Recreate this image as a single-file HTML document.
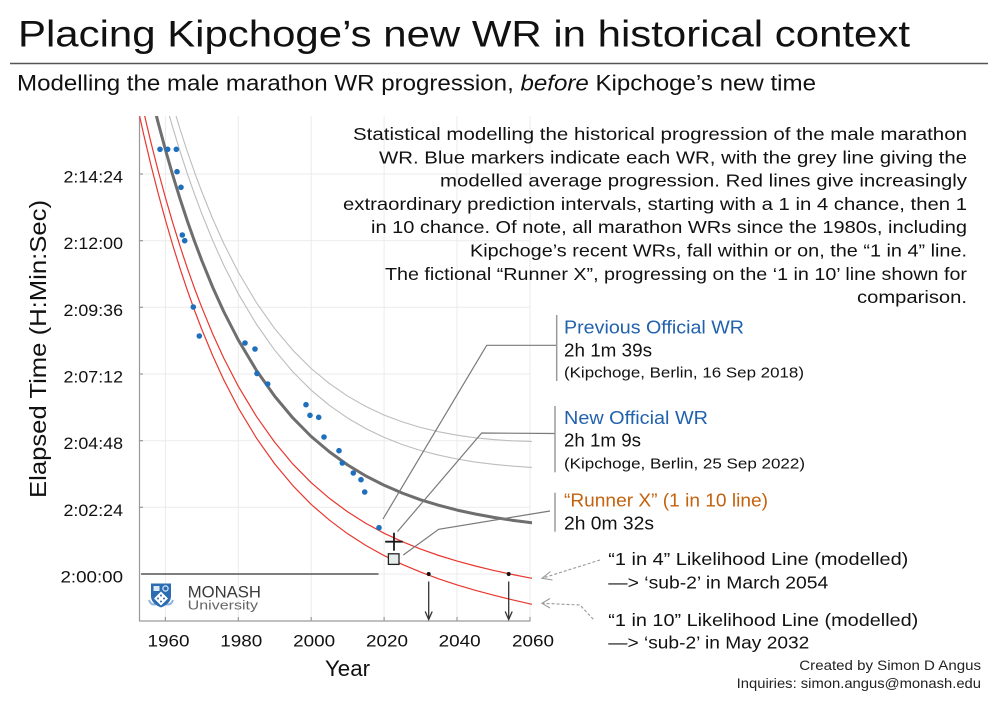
<!DOCTYPE html>
<html>
<head>
<meta charset="utf-8">
<style>
  html,body{margin:0;padding:0;background:#fff;}
  svg{display:block;}
  text{font-family:"Liberation Sans",Arial,sans-serif;}
</style>
</head>
<body>
<svg width="1000" height="702" viewBox="0 0 1000 702" xmlns="http://www.w3.org/2000/svg">
  <rect width="1000" height="702" fill="#fff"/>
  <defs>
    <clipPath id="plot"><rect x="139.5" y="116" width="392.5" height="506"/></clipPath>
  </defs>

  <!-- Title -->
  <text x="18" y="46.7" font-size="37" fill="#111" textLength="892" lengthAdjust="spacingAndGlyphs">Placing Kipchoge’s new WR in historical context</text>
  <line x1="10" y1="63.5" x2="988" y2="63.5" stroke="#555" stroke-width="1.5"/>
  <text x="17" y="90.7" font-size="22" fill="#111" textLength="799" lengthAdjust="spacingAndGlyphs">Modelling the male marathon WR progression, <tspan font-style="italic">before</tspan> Kipchoge’s new time</text>

  <!-- grid -->
  <g stroke="#ebebeb" stroke-width="1">
    <line x1="165.4" y1="116" x2="165.4" y2="621"/>
    <line x1="238.3" y1="116" x2="238.3" y2="621"/>
    <line x1="311.2" y1="116" x2="311.2" y2="621"/>
    <line x1="384.1" y1="116" x2="384.1" y2="621"/>
    <line x1="457.0" y1="116" x2="457.0" y2="621"/>
    <line x1="530.0" y1="116" x2="530.0" y2="621"/>
    <line x1="139.5" y1="174" x2="530" y2="174"/>
    <line x1="139.5" y1="240.7" x2="530" y2="240.7"/>
    <line x1="139.5" y1="307.3" x2="530" y2="307.3"/>
    <line x1="139.5" y1="374" x2="530" y2="374"/>
    <line x1="139.5" y1="440.7" x2="530" y2="440.7"/>
    <line x1="139.5" y1="507.3" x2="530" y2="507.3"/>
    <line x1="139.5" y1="574" x2="530" y2="574"/>
  </g>

  <!-- axes -->
  <g stroke="#9a9a9a" stroke-width="1.2" fill="none">
    <line x1="139.5" y1="116" x2="139.5" y2="621.5"/>
    <line x1="139.5" y1="621" x2="530.5" y2="621"/>
    <line x1="165.4" y1="617" x2="165.4" y2="621"/>
    <line x1="238.3" y1="617" x2="238.3" y2="621"/>
    <line x1="311.2" y1="617" x2="311.2" y2="621"/>
    <line x1="384.1" y1="617" x2="384.1" y2="621"/>
    <line x1="457.0" y1="617" x2="457.0" y2="621"/>
    <line x1="530.0" y1="617" x2="530.0" y2="621"/>
    <line x1="139.5" y1="174" x2="143" y2="174"/>
    <line x1="139.5" y1="240.7" x2="143" y2="240.7"/>
    <line x1="139.5" y1="307.3" x2="143" y2="307.3"/>
    <line x1="139.5" y1="374" x2="143" y2="374"/>
    <line x1="139.5" y1="440.7" x2="143" y2="440.7"/>
    <line x1="139.5" y1="507.3" x2="143" y2="507.3"/>
  </g>

  <!-- y tick labels -->
  <g font-size="17" fill="#111">
    <text x="63.5" y="182.5" textLength="59.5" lengthAdjust="spacingAndGlyphs">2:14:24</text>
    <text x="63.5" y="249.2" textLength="59.5" lengthAdjust="spacingAndGlyphs">2:12:00</text>
    <text x="63.5" y="315.8" textLength="59.5" lengthAdjust="spacingAndGlyphs">2:09:36</text>
    <text x="63.5" y="382.5" textLength="59.5" lengthAdjust="spacingAndGlyphs">2:07:12</text>
    <text x="63.5" y="449.2" textLength="59.5" lengthAdjust="spacingAndGlyphs">2:04:48</text>
    <text x="63.5" y="515.8" textLength="59.5" lengthAdjust="spacingAndGlyphs">2:02:24</text>
    <text x="60.5" y="582.5" textLength="62.5" lengthAdjust="spacingAndGlyphs">2:00:00</text>
  </g>
  <!-- x tick labels -->
  <g font-size="16.5" fill="#111">
    <text x="147.5" y="646.7" textLength="42" lengthAdjust="spacingAndGlyphs">1960</text>
    <text x="220.3" y="646.7" textLength="42" lengthAdjust="spacingAndGlyphs">1980</text>
    <text x="293.2" y="646.7" textLength="42" lengthAdjust="spacingAndGlyphs">2000</text>
    <text x="366" y="646.7" textLength="42" lengthAdjust="spacingAndGlyphs">2020</text>
    <text x="438.7" y="646.7" textLength="42" lengthAdjust="spacingAndGlyphs">2040</text>
    <text x="512" y="646.7" textLength="42" lengthAdjust="spacingAndGlyphs">2060</text>
  </g>
  <text x="325" y="676" font-size="22.5" fill="#111" textLength="45" lengthAdjust="spacingAndGlyphs">Year</text>
  <text transform="translate(46,498) rotate(-90)" x="0" y="0" font-size="23" fill="#111" textLength="298" lengthAdjust="spacingAndGlyphs">Elapsed Time (H:Min:Sec)</text>

  <!-- 2:00:00 reference line -->
  <line x1="141" y1="574" x2="378.5" y2="574" stroke="#555" stroke-width="1.4"/>

  <!-- curves -->
  <g clip-path="url(#plot)" fill="none" stroke-linejoin="round" stroke-linecap="round">
    <polyline stroke="#bdbdbd" stroke-width="1.1" points="143.5,-9.1 150.8,22.3 158.1,51.8 165.4,79.3 172.7,105.1 180.0,129.0 187.3,151.5 194.6,172.4 201.9,192.0 212.8,219.0 223.7,243.4 238.3,272.1 256.6,302.9 274.8,328.8 293.0,350.4 311.2,368.5 329.5,383.6 347.7,396.2 365.9,406.5 384.2,415.1 402.4,421.9 420.6,427.5 438.9,431.8 457.1,435.2 475.3,437.8 493.6,439.6 511.8,440.8 531.9,441.4"/>
    <polyline stroke="#bdbdbd" stroke-width="1.1" points="143.5,13.6 150.8,45.0 158.1,74.3 165.4,101.7 172.7,127.3 180.0,151.2 187.3,173.6 194.6,194.4 201.9,213.9 212.8,240.8 223.7,265.1 238.3,293.8 256.6,324.5 274.8,350.3 293.0,372.0 311.2,390.2 329.5,405.4 347.7,418.1 365.9,428.6 384.2,437.4 402.4,444.6 420.6,450.5 438.9,455.2 457.1,459.0 475.3,462.1 493.6,464.3 511.8,466.1 531.9,467.4"/>
    <polyline stroke="#e8372f" stroke-width="1.2" points="128.9,65.7 136.2,100.9 143.5,133.7 150.8,164.5 158.1,193.1 165.4,219.9 172.7,245.0 180.0,268.3 187.3,290.2 194.6,310.6 201.9,329.6 212.8,355.9 223.7,379.7 238.3,407.9 256.6,438.3 274.8,464.0 293.0,485.8 311.2,504.4 329.5,520.2 347.7,533.8 365.9,545.5 384.2,555.6 402.4,564.4 420.6,572.1 438.9,578.9 457.1,584.9 475.3,590.3 493.6,595.2 511.8,599.7 531.9,604.3"/>
    <polyline stroke="#e8372f" stroke-width="1.2" points="128.9,42.7 136.2,78.0 143.5,111.0 150.8,141.8 158.1,170.6 165.4,197.5 172.7,222.7 180.0,246.1 187.3,268.1 194.6,288.6 201.9,307.7 212.8,334.1 223.7,358.0 238.3,386.3 256.6,416.7 274.8,442.4 293.0,464.2 311.2,482.7 329.5,498.4 347.7,511.9 365.9,523.4 384.2,533.3 402.4,541.7 420.6,549.1 438.9,555.5 457.1,561.1 475.3,566.0 493.6,570.4 511.8,574.4 531.9,578.3"/>
    <polyline stroke="#6e6e6e" stroke-width="3" points="128.9,-6.6 136.2,29.0 143.5,62.3 150.8,93.4 158.1,122.5 165.4,149.6 172.7,175.0 180.0,198.7 187.3,220.9 194.6,241.5 201.9,260.8 212.8,287.5 223.7,311.5 238.3,340.0 256.6,370.6 274.8,396.4 293.0,418.1 311.2,436.5 329.5,451.9 347.7,465.0 365.9,476.0 384.2,485.3 402.4,493.1 420.6,499.8 438.9,505.3 457.1,510.1 475.3,514.0 493.6,517.4 511.8,520.2 531.9,522.8"/>
  </g>

  <!-- WR markers -->
  <g fill="#1f6fbd">
    <circle cx="160" cy="149.3" r="2.8"/>
    <circle cx="167.7" cy="149.3" r="2.8"/>
    <circle cx="176.3" cy="149.3" r="2.8"/>
    <circle cx="177" cy="171.7" r="2.8"/>
    <circle cx="181" cy="187.3" r="2.8"/>
    <circle cx="182.3" cy="235" r="2.8"/>
    <circle cx="184.7" cy="240.7" r="2.8"/>
    <circle cx="193.3" cy="307" r="2.8"/>
    <circle cx="199.3" cy="336" r="2.8"/>
    <circle cx="245" cy="343" r="2.8"/>
    <circle cx="255" cy="349" r="2.8"/>
    <circle cx="257" cy="373.5" r="2.8"/>
    <circle cx="267.7" cy="384" r="2.8"/>
    <circle cx="306" cy="404.7" r="2.8"/>
    <circle cx="310" cy="415.3" r="2.8"/>
    <circle cx="318.7" cy="417.3" r="2.8"/>
    <circle cx="324" cy="437" r="2.8"/>
    <circle cx="339" cy="450.7" r="2.8"/>
    <circle cx="342.3" cy="463" r="2.8"/>
    <circle cx="353.3" cy="473" r="2.8"/>
    <circle cx="361" cy="479.7" r="2.8"/>
    <circle cx="364.7" cy="492" r="2.8"/>
    <circle cx="379" cy="527.7" r="2.8"/>
  </g>

  <!-- leaders -->
  <g stroke="#7a7a7a" stroke-width="1.2" fill="none">
    <polyline points="556.7,345.3 486.7,345.3 383,519"/>
    <polyline points="555,433.5 481.7,433 397.5,531.5"/>
    <polyline points="550,511 438.7,529.3 403.3,555"/>
  </g>
  <g stroke="#9a9a9a" stroke-width="1.5">
    <line x1="556.7" y1="315" x2="556.7" y2="381"/>
    <line x1="555" y1="406" x2="555" y2="472.3"/>
    <line x1="555" y1="492.7" x2="555" y2="531.7"/>
  </g>

  <!-- New WR cross & Runner X square -->
  <g stroke="#1a1a1a" stroke-width="1.8">
    <line x1="385.2" y1="541.7" x2="402.8" y2="541.7"/>
    <line x1="394" y1="532.7" x2="394" y2="550.7"/>
  </g>
  <rect x="388.4" y="553.8" width="10.6" height="10.6" fill="#e4ecec" stroke="#222" stroke-width="1.3"/>

  <!-- sub-2 dots & arrows -->
  <g fill="#111"><circle cx="428.7" cy="574" r="2"/><circle cx="508.7" cy="574" r="2"/></g>
  <g stroke="#333" stroke-width="1.3" fill="none">
    <line x1="428.7" y1="581.5" x2="428.7" y2="619"/>
    <polyline points="425.2,611.5 428.7,619.5 432.2,611.5"/>
    <line x1="508.7" y1="581.5" x2="508.7" y2="619"/>
    <polyline points="505.2,611.5 508.7,619.5 512.2,611.5"/>
  </g>

  <!-- dashed pointer arrows -->
  <g stroke="#999" stroke-width="1.1" fill="none">
    <line x1="600" y1="560" x2="542" y2="578.3" stroke-dasharray="3,2"/>
    <polyline points="550.5,571.5 542,578.3 552.5,580"/>
    <polyline points="593.3,619.3 580,605 542,603.3" stroke-dasharray="3,2"/>
    <polyline points="550,598.5 542,603.3 550,608"/>
  </g>

  <!-- paragraph -->
  <g font-size="17.5" fill="#111">
    <text x="353" y="140" textLength="614" lengthAdjust="spacingAndGlyphs">Statistical modelling the historical progression of the male marathon</text>
    <text x="379" y="163.3" textLength="588" lengthAdjust="spacingAndGlyphs">WR. Blue markers indicate each WR, with the grey line giving the</text>
    <text x="440" y="186.6" textLength="527" lengthAdjust="spacingAndGlyphs">modelled average progression. Red lines give increasingly</text>
    <text x="343" y="209.9" textLength="624" lengthAdjust="spacingAndGlyphs">extraordinary prediction intervals, starting with a 1 in 4 chance, then 1</text>
    <text x="371" y="233.2" textLength="596" lengthAdjust="spacingAndGlyphs">in 10 chance. Of note, all marathon WRs since the 1980s, including</text>
    <text x="470" y="256.5" textLength="497" lengthAdjust="spacingAndGlyphs">Kipchoge’s recent WRs, fall within or on, the “1 in 4” line.</text>
    <text x="385" y="279.8" textLength="582" lengthAdjust="spacingAndGlyphs">The fictional “Runner X”, progressing on the ‘1 in 10’ line shown for</text>
    <text x="857" y="303" textLength="110" lengthAdjust="spacingAndGlyphs">comparison.</text>
  </g>

  <!-- annotations -->
  <text x="564" y="333.3" font-size="18.5" fill="#2262ad" textLength="180" lengthAdjust="spacingAndGlyphs">Previous Official WR</text>
  <text x="564" y="356.7" font-size="18" fill="#111" textLength="88" lengthAdjust="spacingAndGlyphs">2h 1m 39s</text>
  <text x="564" y="377.3" font-size="14.5" fill="#111" textLength="240" lengthAdjust="spacingAndGlyphs">(Kipchoge, Berlin, 16 Sep 2018)</text>

  <text x="564" y="424" font-size="18.5" fill="#2262ad" textLength="144" lengthAdjust="spacingAndGlyphs">New Official WR</text>
  <text x="564" y="446.7" font-size="18" fill="#111" textLength="77" lengthAdjust="spacingAndGlyphs">2h 1m 9s</text>
  <text x="564" y="468.3" font-size="14.5" fill="#111" textLength="241" lengthAdjust="spacingAndGlyphs">(Kipchoge, Berlin, 25 Sep 2022)</text>

  <text x="564" y="506.7" font-size="18.5" fill="#c4620e" textLength="204" lengthAdjust="spacingAndGlyphs">“Runner X” (1 in 10 line)</text>
  <text x="564" y="529.3" font-size="18" fill="#111" textLength="90" lengthAdjust="spacingAndGlyphs">2h 0m 32s</text>

  <g font-size="17.5" fill="#111">
    <text x="608.3" y="565" textLength="300" lengthAdjust="spacingAndGlyphs">“1 in 4” Likelihood Line (modelled)</text>
    <text x="608.3" y="588.3" textLength="220" lengthAdjust="spacingAndGlyphs">—&gt; ‘sub-2’ in March 2054</text>
    <text x="608.3" y="626" textLength="310" lengthAdjust="spacingAndGlyphs">“1 in 10” Likelihood Line (modelled)</text>
    <text x="608.3" y="648.3" textLength="201" lengthAdjust="spacingAndGlyphs">—&gt; ‘sub-2’ in May 2032</text>
  </g>
  <g font-size="14" fill="#222">
    <text x="799.3" y="670" textLength="181.7" lengthAdjust="spacingAndGlyphs">Created by Simon D Angus</text>
    <text x="736.7" y="688" textLength="244.3" lengthAdjust="spacingAndGlyphs">Inquiries: simon.angus@monash.edu</text>
  </g>

  <!-- Monash logo -->
  <g>
    <path d="M157,604 Q151,606 149,600 M165,604 Q171,606 173,600" stroke="#8fb4dd" stroke-width="2" fill="none"/>
    <path d="M151,583.5 H171 V596 Q171,603.5 161,607.5 Q151,603.5 151,596 Z" fill="#2b6cb3"/>
    <rect x="153.5" y="586" width="6" height="5" fill="#dfe9f5"/>
    <circle cx="165.5" cy="588.5" r="2.6" fill="none" stroke="#dfe9f5" stroke-width="1.2"/>
    <path d="M161,591.5 L168,598.5 L161,605.5 L154,598.5 Z" fill="#fff"/>
    <g fill="#2b6cb3">
      <circle cx="161" cy="595.5" r="1"/><circle cx="158" cy="598.5" r="1"/>
      <circle cx="164" cy="598.5" r="1"/><circle cx="161" cy="601.5" r="1"/>
    </g>
    <text x="187.7" y="597.3" font-family="'Liberation Serif',serif" font-size="17" fill="#3a3a3a" textLength="73.3" lengthAdjust="spacingAndGlyphs">MONASH</text>
    <text x="187.7" y="609.5" font-size="13" fill="#666" textLength="70.3" lengthAdjust="spacingAndGlyphs">University</text>
  </g>
</svg>
</body>
</html>
